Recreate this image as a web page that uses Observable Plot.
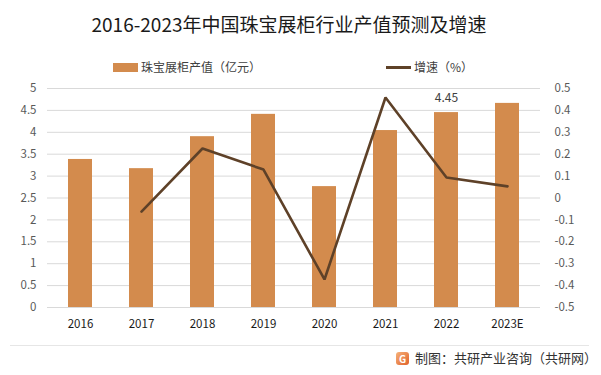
<!DOCTYPE html>
<html><head><meta charset="utf-8">
<script src="https://cdn.jsdelivr.net/npm/d3@7"></script>
<script src="https://cdn.jsdelivr.net/npm/@observablehq/plot@0.6"></script>
<style>
body{margin:0;background:#fff;font-family:"Noto Sans CJK SC","Noto Sans",sans-serif;}
#wrap{position:relative;width:601px;height:375px;overflow:hidden;}
#title{position:absolute;left:0;width:578px;top:10px;text-align:center;font-size:19px;color:#1a1a1a;line-height:28px;}
.leg{position:absolute;top:58px;font-size:12px;color:#404040;line-height:18px;display:flex;align-items:center;}
.sw{display:inline-block;width:25px;margin-right:3px;}
#plot{position:absolute;left:0;top:80px;}
#sep{position:absolute;left:10px;right:12px;top:345px;border-top:1px solid #e6e6e6;}
#cap{position:absolute;top:348px;left:396px;font-size:13px;color:#333;line-height:20px;display:flex;align-items:center;}
#logo{display:inline-block;width:13px;height:13px;border-radius:3px;background:linear-gradient(135deg,#f6b27a,#e0612a);margin-right:6px;color:#fff;font-size:10px;line-height:13px;text-align:center;font-weight:bold;}
</style></head>
<body><div id="wrap">
<div id="title">2016-2023年中国珠宝展柜行业产值预测及增速</div>
<div class="leg" style="left:113px"><span class="sw" style="height:9px;background:#d38b4d"></span>珠宝展柜产值（亿元）</div>
<div class="leg" style="left:386px"><span class="sw" style="height:3px;background:#5e4128"></span>增速（%）</div>
<div id="plot"></div>
<div id="sep"></div>
<div id="cap"><span id="logo">G</span>制图：共研产业咨询（共研网）</div>
</div>
<script>
const years = ["2016","2017","2018","2019","2020","2021","2022","2023E"];
const output = [3.38, 3.17, 3.90, 4.41, 2.76, 4.04, 4.45, 4.66];
const growthYears = ["2017","2018","2019","2020","2021","2022","2023E"];
const growth = [-0.062, 0.226, 0.13, -0.372, 0.459, 0.094, 0.053];
const leftTicks = [0,0.5,1,1.5,2,2.5,3,3.5,4,4.5,5];
const rightTicks = [-0.5,-0.4,-0.3,-0.2,-0.1,0,0.1,0.2,0.3,0.4,0.5];
const labelYear = "2022";

const bars = years.map((y,i)=>({year:y, value:output[i]}));
// map growth onto left scale: right axis [-0.5,0.5] -> left [0,5]
const toLeft = g => (g + 0.5) * 5;
const line = growthYears.map((y,i)=>({year:y, g:growth[i], v:toLeft(growth[i])}));
const labels = bars.filter(d=>d.year===labelYear);

const chart = Plot.plot({
  width: 601, height: 262,
  marginTop: 8, marginBottom: 35, marginLeft: 47, marginRight: 61,
  style: {fontFamily: '"Noto Sans CJK SC","Noto Sans",sans-serif', fontSize: "11px", color: "#595959", background: "transparent"},
  x: {type: "band", domain: years, paddingInner: 0.6, paddingOuter: 0.3, label: null},
  y: {domain: [0,5], label: null},
  marks: [
    Plot.ruleY(leftTicks, {stroke: "#d9d9d9", strokeWidth: 1}),
    Plot.barY(bars, {x: "year", y: "value", fill: "#d38b4d"}),
    Plot.line(line, {x: "year", y: "v", stroke: "#5e4128", strokeWidth: 2.6, strokeLinejoin: "miter"}),
    Plot.text(labels, {x: "year", y: "value", text: d => d.value.toFixed(2), dy: -14, fontSize: 12, fill: "#404040"}),
    Plot.axisY({ticks: leftTicks, tickSize: 0, tickPadding: 11, label: null, fontSize: 11.5, tickFormat: d => String(d)}),
    Plot.axisY({anchor: "right", ticks: rightTicks.map(toLeft), tickSize: 0, tickPadding: 14, label: null, fontSize: 11.5,
      tickFormat: d => { const v = Math.round((d/5 - 0.5)*10)/10; return v === 0 ? "0" : v.toFixed(1); }}),
    Plot.axisX({tickSize: 0, tickPadding: 12, label: null, fontSize: 11.5, fill: "#1a1a1a"})
  ]
});
document.getElementById("plot").append(chart);
</script>
</body></html>
